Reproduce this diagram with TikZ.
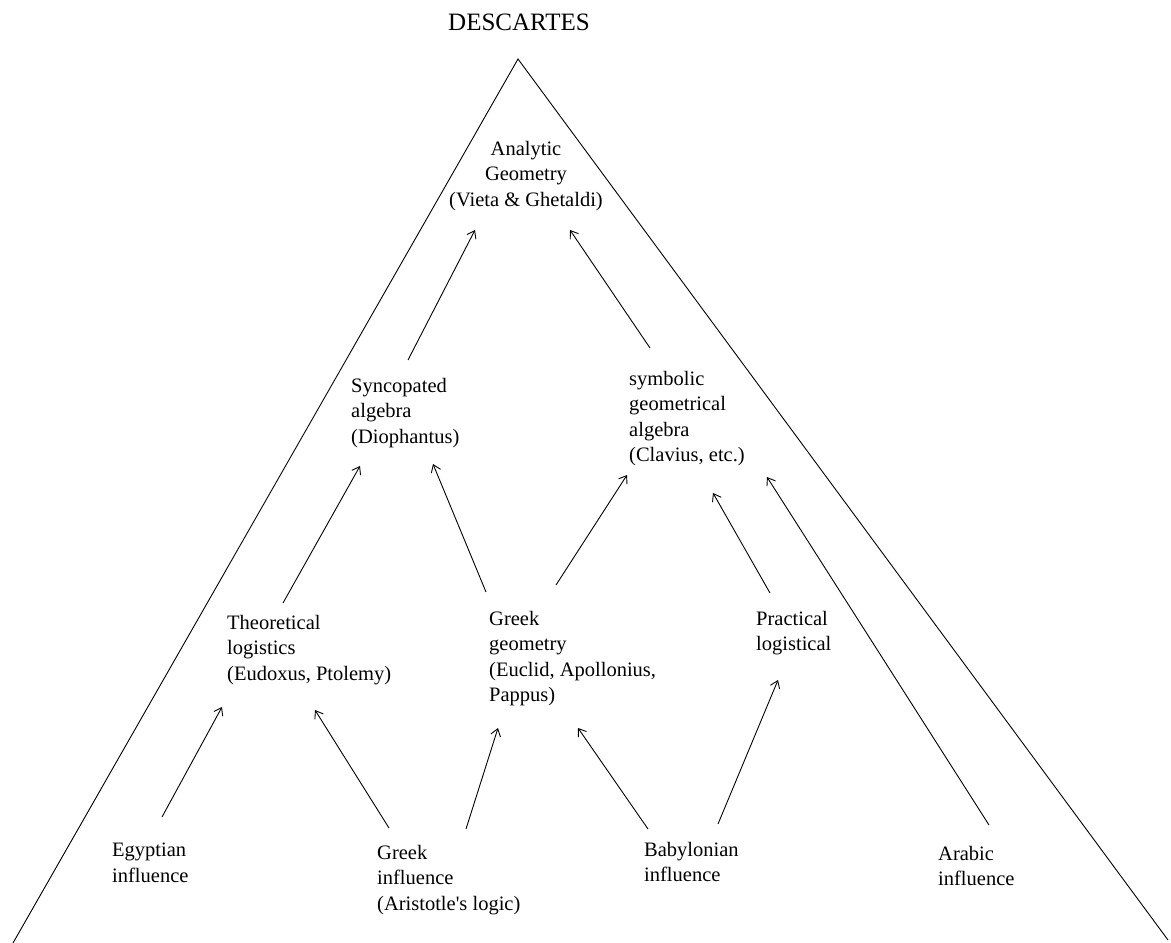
\documentclass[tikz,border=0pt]{standalone}
\usepackage{fontspec}
\setmainfont{Liberation Serif}
\usetikzlibrary{arrows.meta,calc}

\begin{document}
\begin{tikzpicture}[
    x=1pt, y=-1pt,
    label text/.style={inner sep=0pt, anchor=north west, align=left,
                       font=\fontsize{20.5}{25.5}\selectfont},
    arrow/.style={-{Straight Barb[length=7pt,width=10pt]}, line width=0.9pt},
    leg/.style={line width=0.9pt}
]

\useasboundingbox (0,0) rectangle (1171,943);

% Title above the apex
\node[inner sep=0pt, anchor=north west, font=\fontsize{25}{30}\selectfont] (descartes) at (448,13.5) {DESCARTES};

% The big triangle
\coordinate (apex) at (518,59);
\coordinate (left foot) at (13,943);
\coordinate (right foot) at (1168,940);
\draw[leg] (left foot) -- (apex) -- (right foot);

% Top level
\node[label text, anchor=north, align=center] (analytic) at (526,141) {Analytic\\Geometry\\(Vieta \& Ghetaldi)};

% Second level
\node[label text] (sync) at (351,378) {Syncopated\\algebra\\(Diophantus)};
\node[label text] (symb) at (629,371) {symbolic\\geometrical\\algebra\\(Clavius, etc.)};

% Third level
\node[label text] (theo) at (227,615) {Theoretical\\logistics\\(Eudoxus, Ptolemy)};
\node[label text] (geom) at (489,611) {Greek\\geometry\\(Euclid, Apollonius,\\Pappus)};
\node[label text] (pract) at (756,611) {Practical\\logistical};

% Influences along the bottom
\node[label text] (egypt) at (112,843) {Egyptian\\influence};
\node[label text] (greek) at (377,845) {Greek\\influence\\(Aristotle\textquotesingle s logic)};
\node[label text] (baby) at (644,842) {Babylonian\\influence};
\node[label text] (arabic) at (938,846) {Arabic\\influence};

% Arrows from the influences
\draw[arrow] ($(egypt.north west)+(50,-26)$) -- ($(theo.north west)+(-5,92)$);
\draw[arrow] ($(greek.north west)+(12,-17)$) -- ($(theo.north west)+(88,95)$);
\draw[arrow] ($(greek.north west)+(89,-16)$) -- ($(geom.north west)+(9,117)$);
\draw[arrow] ($(baby.north west)+(4,-13)$) -- ($(geom.north west)+(89,117)$);
\draw[arrow] ($(baby.north west)+(74,-18)$) -- ($(pract.north west)+(22,69)$);
\draw[arrow] ($(arabic.north west)+(51,-21)$) -- ($(symb.north west)+(138,106)$);

% Arrows from the third level
\draw[arrow] ($(theo.north west)+(56,-12)$) -- ($(sync.north west)+(9,88)$);
\draw[arrow] ($(geom.north west)+(-3,-19)$) -- ($(sync.north west)+(82,86)$);
\draw[arrow] ($(geom.north west)+(67,-26)$) -- ($(symb.north west)+(-2,104)$);
\draw[arrow] ($(pract.north west)+(14,-18)$) -- ($(symb.north west)+(84,122)$);

% Arrows to the top
\draw[arrow] ($(sync.north west)+(57,-18)$) -- ($(analytic.north)+(-51,89)$);
\draw[arrow] ($(symb.north west)+(21,-23)$) -- ($(analytic.north)+(44,89)$);

\end{tikzpicture}
\end{document}
